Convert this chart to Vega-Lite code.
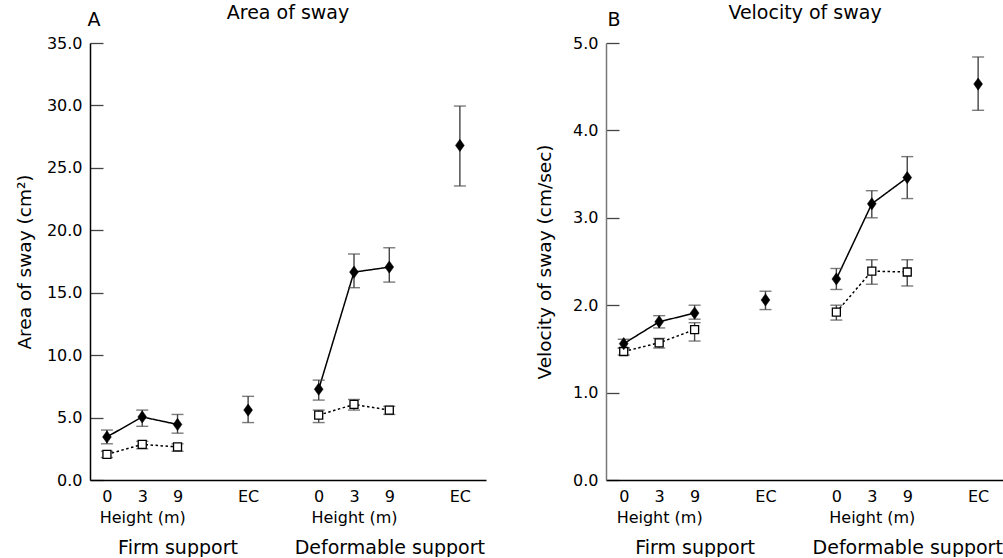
{
  "$schema": "https://vega.github.io/schema/vega-lite/v6.json",
  "background": "white",
  "padding": {"left": 15, "top": 4, "right": 0, "bottom": 0},
  "spacing": 49,
  "config": {
    "view": {"stroke": null},
    "font": "DejaVu Sans",
    "title": {"font": "DejaVu Sans", "fontSize": 19, "fontWeight": "normal", "color": "black"},
    "axis": {"labelFont": "DejaVu Sans", "titleFont": "DejaVu Sans", "labelColor": "black", "titleColor": "black", "grid": false, "titleFontWeight": "normal"},
    "axisY": {"labelFontSize": 16, "titleFontSize": 18.5, "ticks": false, "labelPadding": 8, "grid": true, "gridColor": "#444", "gridWidth": 1.3, "gridDash": [13, 2000], "gridOpacity": 1, "domainColor": "black", "domainWidth": 1.5, "titlePadding": 12},
    "axisX": {"labelFontSize": 16, "ticks": false, "grid": false, "domainColor": "black", "domainWidth": 1.5, "labelPadding": 8, "labelLineHeight": 21, "labelFlush": false, "labelOverlap": false, "labelLimit": 400}
  },
  "datasets": {
    "area": [
      {"support": "firm", "height": "0", "series": "filled", "slot": 0, "mean": 3.45, "lo": 2.9, "hi": 4.0},
      {"support": "firm", "height": "3", "series": "filled", "slot": 1, "mean": 5.05, "lo": 4.3, "hi": 5.6},
      {"support": "firm", "height": "9", "series": "filled", "slot": 2, "mean": 4.45, "lo": 3.75, "hi": 5.25},
      {"support": "firm", "height": "EC", "series": "filled", "slot": 4, "mean": 5.6, "lo": 4.6, "hi": 6.7},
      {"support": "deformable", "height": "0", "series": "filled", "slot": 6, "mean": 7.27, "lo": 6.4, "hi": 8.0},
      {"support": "deformable", "height": "3", "series": "filled", "slot": 7, "mean": 16.65, "lo": 15.4, "hi": 18.1},
      {"support": "deformable", "height": "9", "series": "filled", "slot": 8, "mean": 17.05, "lo": 15.85, "hi": 18.6},
      {"support": "deformable", "height": "EC", "series": "filled", "slot": 10, "mean": 26.8, "lo": 23.55, "hi": 29.95},
      {"support": "firm", "height": "0", "series": "open", "slot": 0, "mean": 2.05, "lo": 1.8, "hi": 2.3},
      {"support": "firm", "height": "3", "series": "open", "slot": 1, "mean": 2.85, "lo": 2.5, "hi": 3.1},
      {"support": "firm", "height": "9", "series": "open", "slot": 2, "mean": 2.65, "lo": 2.3, "hi": 2.9},
      {"support": "deformable", "height": "0", "series": "open", "slot": 6, "mean": 5.2, "lo": 4.6, "hi": 5.6},
      {"support": "deformable", "height": "3", "series": "open", "slot": 7, "mean": 6.05, "lo": 5.6, "hi": 6.45},
      {"support": "deformable", "height": "9", "series": "open", "slot": 8, "mean": 5.6, "lo": 5.25, "hi": 5.9}
    ],
    "velocity": [
      {"support": "firm", "height": "0", "series": "filled", "slot": 0, "mean": 1.56, "lo": 1.51, "hi": 1.61},
      {"support": "firm", "height": "3", "series": "filled", "slot": 1, "mean": 1.81, "lo": 1.74, "hi": 1.88},
      {"support": "firm", "height": "9", "series": "filled", "slot": 2, "mean": 1.91, "lo": 1.84, "hi": 2.0},
      {"support": "firm", "height": "EC", "series": "filled", "slot": 4, "mean": 2.06, "lo": 1.95, "hi": 2.16},
      {"support": "deformable", "height": "0", "series": "filled", "slot": 6, "mean": 2.3, "lo": 2.18, "hi": 2.42},
      {"support": "deformable", "height": "3", "series": "filled", "slot": 7, "mean": 3.16, "lo": 3.0, "hi": 3.31},
      {"support": "deformable", "height": "9", "series": "filled", "slot": 8, "mean": 3.46, "lo": 3.22, "hi": 3.7},
      {"support": "deformable", "height": "EC", "series": "filled", "slot": 10, "mean": 4.53, "lo": 4.23, "hi": 4.84},
      {"support": "firm", "height": "0", "series": "open", "slot": 0, "mean": 1.47, "lo": 1.43, "hi": 1.51},
      {"support": "firm", "height": "3", "series": "open", "slot": 1, "mean": 1.57, "lo": 1.51, "hi": 1.62},
      {"support": "firm", "height": "9", "series": "open", "slot": 2, "mean": 1.72, "lo": 1.59, "hi": 1.8},
      {"support": "deformable", "height": "0", "series": "open", "slot": 6, "mean": 1.92, "lo": 1.83, "hi": 2.0},
      {"support": "deformable", "height": "3", "series": "open", "slot": 7, "mean": 2.39, "lo": 2.24, "hi": 2.52},
      {"support": "deformable", "height": "9", "series": "open", "slot": 8, "mean": 2.38, "lo": 2.22, "hi": 2.52}
    ]
  },
  "hconcat": [
    {
      "title": {"text": "A", "anchor": "start", "dx": 72, "dy": 30},
      "vconcat": [
        {
          "title": {"text": "Area of sway", "anchor": "middle", "offset": 12},
          "width": 396,
          "height": 437,
          "data": {"name": "area"},
          "resolve": {"axis": {"x": "independent"}},
          "layer": [
            {
              "transform": [{"filter": "datum.slot != 4 && datum.slot != 10"}],
              "mark": {"type": "line", "color": "black", "strokeWidth": 1.5},
              "encoding": {
                "x": {"field": "slot", "type": "quantitative", "scale": {"domain": [-0.48, 10.74], "nice": false, "zero": false},
                  "axis": {"orient": "bottom", "title": null, "values": [0, 1, 2, 4, 6, 7, 8, 10],
                    "labelExpr": "datum.value == 0 || datum.value == 6 ? '0' : datum.value == 1 || datum.value == 7 ? ['3', 'Height (m)'] : datum.value == 2 || datum.value == 8 ? '9' : 'EC'"}},
                "y": {"field": "mean", "type": "quantitative", "title": "Area of sway (cm²)", "scale": {"domain": [0, 35], "nice": false},
                  "axis": {"values": [0, 5, 10, 15, 20, 25, 30, 35], "format": ".1f"}},
                "detail": [{"field": "series"}, {"field": "support"}],
                "strokeDash": {"field": "series", "type": "nominal", "scale": {"domain": ["filled", "open"], "range": [[1, 0], [2.5, 2.5]]}, "legend": null}
              }
            },
            {
              "mark": {"type": "rule", "color": "#444", "strokeWidth": 1.4},
              "encoding": {
                "x": {"field": "slot", "type": "quantitative", "axis": null},
                "y": {"field": "lo", "type": "quantitative", "title": "Area of sway (cm²)"},
                "y2": {"field": "hi"}
              }
            },
            {
              "mark": {"type": "tick", "orient": "horizontal", "color": "#444", "size": 12, "thickness": 1.4},
              "encoding": {
                "x": {"field": "slot", "type": "quantitative", "axis": null},
                "y": {"field": "lo", "type": "quantitative", "title": "Area of sway (cm²)"}
              }
            },
            {
              "mark": {"type": "tick", "orient": "horizontal", "color": "#444", "size": 12, "thickness": 1.4},
              "encoding": {
                "x": {"field": "slot", "type": "quantitative", "axis": null},
                "y": {"field": "hi", "type": "quantitative", "title": "Area of sway (cm²)"}
              }
            },
            {
              "transform": [{"filter": "datum.series == 'open'"}],
              "mark": {"type": "point", "shape": "square", "filled": true, "fill": "white", "stroke": "black", "strokeWidth": 1.3, "size": 64, "opacity": 1},
              "encoding": {
                "x": {"field": "slot", "type": "quantitative", "axis": null},
                "y": {"field": "mean", "type": "quantitative", "title": "Area of sway (cm²)"}
              }
            },
            {
              "transform": [{"filter": "datum.series == 'filled'"}],
              "mark": {"type": "point", "shape": "M0,-1L0.72,0L0,1L-0.72,0Z", "filled": true, "fill": "black", "stroke": "black", "strokeWidth": 0.5, "size": 150, "opacity": 1},
              "encoding": {
                "x": {"field": "slot", "type": "quantitative",
                  "axis": {"orient": "bottom", "title": null, "domain": false, "values": [2, 8], "labelFontSize": 19, "labelPadding": 58,
                    "labelExpr": "datum.value == 2 ? 'Firm support' : 'Deformable support'"}},
                "y": {"field": "mean", "type": "quantitative", "title": "Area of sway (cm²)"}
              }
            }
          ]
        }
      ]
    },
    {
      "title": {"text": "B", "anchor": "start", "dx": 72, "dy": 30},
      "vconcat": [
        {
          "title": {"text": "Velocity of sway", "anchor": "middle", "offset": 12},
          "width": 398,
          "height": 437,
          "data": {"name": "velocity"},
          "resolve": {"axis": {"x": "independent"}},
          "layer": [
            {
              "transform": [{"filter": "datum.slot != 4 && datum.slot != 10"}],
              "mark": {"type": "line", "color": "black", "strokeWidth": 1.5},
              "encoding": {
                "x": {"field": "slot", "type": "quantitative", "scale": {"domain": [-0.5, 10.73], "nice": false, "zero": false},
                  "axis": {"orient": "bottom", "title": null, "values": [0, 1, 2, 4, 6, 7, 8, 10],
                    "labelExpr": "datum.value == 0 || datum.value == 6 ? '0' : datum.value == 1 || datum.value == 7 ? ['3', 'Height (m)'] : datum.value == 2 || datum.value == 8 ? '9' : 'EC'"}},
                "y": {"field": "mean", "type": "quantitative", "title": "Velocity of sway (cm/sec)", "scale": {"domain": [0, 5], "nice": false},
                  "axis": {"values": [0, 1, 2, 3, 4, 5], "format": ".1f", "domainColor": "#777", "titlePadding": 18}},
                "detail": [{"field": "series"}, {"field": "support"}],
                "strokeDash": {"field": "series", "type": "nominal", "scale": {"domain": ["filled", "open"], "range": [[1, 0], [2.5, 2.5]]}, "legend": null}
              }
            },
            {
              "mark": {"type": "rule", "color": "#444", "strokeWidth": 1.4},
              "encoding": {
                "x": {"field": "slot", "type": "quantitative", "axis": null},
                "y": {"field": "lo", "type": "quantitative", "title": "Velocity of sway (cm/sec)"},
                "y2": {"field": "hi"}
              }
            },
            {
              "mark": {"type": "tick", "orient": "horizontal", "color": "#444", "size": 12, "thickness": 1.4},
              "encoding": {
                "x": {"field": "slot", "type": "quantitative", "axis": null},
                "y": {"field": "lo", "type": "quantitative", "title": "Velocity of sway (cm/sec)"}
              }
            },
            {
              "mark": {"type": "tick", "orient": "horizontal", "color": "#444", "size": 12, "thickness": 1.4},
              "encoding": {
                "x": {"field": "slot", "type": "quantitative", "axis": null},
                "y": {"field": "hi", "type": "quantitative", "title": "Velocity of sway (cm/sec)"}
              }
            },
            {
              "transform": [{"filter": "datum.series == 'open'"}],
              "mark": {"type": "point", "shape": "square", "filled": true, "fill": "white", "stroke": "black", "strokeWidth": 1.3, "size": 64, "opacity": 1},
              "encoding": {
                "x": {"field": "slot", "type": "quantitative", "axis": null},
                "y": {"field": "mean", "type": "quantitative", "title": "Velocity of sway (cm/sec)"}
              }
            },
            {
              "transform": [{"filter": "datum.series == 'filled'"}],
              "mark": {"type": "point", "shape": "M0,-1L0.72,0L0,1L-0.72,0Z", "filled": true, "fill": "black", "stroke": "black", "strokeWidth": 0.5, "size": 150, "opacity": 1},
              "encoding": {
                "x": {"field": "slot", "type": "quantitative",
                  "axis": {"orient": "bottom", "title": null, "domain": false, "values": [2, 8], "labelFontSize": 19, "labelPadding": 58,
                    "labelExpr": "datum.value == 2 ? 'Firm support' : 'Deformable support'"}},
                "y": {"field": "mean", "type": "quantitative", "title": "Velocity of sway (cm/sec)"}
              }
            }
          ]
        }
      ]
    }
  ]
}
